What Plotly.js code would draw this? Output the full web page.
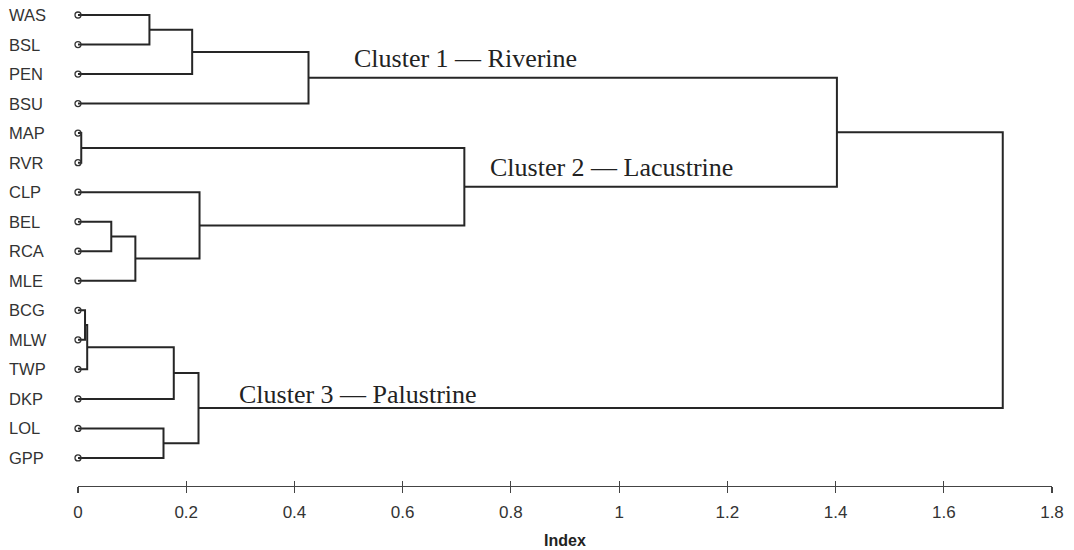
<!DOCTYPE html>
<html>
<head>
<meta charset="utf-8">
<script src="https://cdn.plot.ly/plotly-3.0.1.min.js"></script>
<style>html,body{margin:0;padding:0;background:#fff;}#chart{width:1074px;height:550px;}</style>
</head>
<body>
<div id="chart"></div>
<script>
// Leaves in plotted order (top to bottom)
var leaves = ["WAS","BSL","PEN","BSU","MAP","RVR","CLP","BEL","RCA","MLE","BCG","MLW","TWP","DKP","LOL","GPP"];
// Merge steps (hclust style): negative = leaf (1-based index into leaves), positive = earlier merge
var mergeA = [-5, -11, 2, -8, 4, -1, -15, 3, 6, 8, -7, 9, 1, 12, 14];
var mergeB = [-6, -12, -13, -9, -10, -2, -16, -14, -3, 7, 5, -4, 11, 13, 10];
var heights = [0.006, 0.013, 0.017, 0.0615, 0.106, 0.132, 0.158, 0.177, 0.211, 0.2227, 0.2246, 0.426, 0.714, 1.4025, 1.709];
var tickVals = [0, 0.2, 0.4, 0.6, 0.8, 1, 1.2, 1.4, 1.6, 1.8];
var clusterNames = ["Cluster 1 \u2014 Riverine", "Cluster 2 \u2014 Lacustrine", "Cluster 3 \u2014 Palustrine"];
var clusterNodes = [12, 13, 10];

var nodeY = [], nodeH = [];
function childPos(c){
  if (c < 0) return {y: -c - 1, h: 0};
  return {y: nodeY[c-1], h: nodeH[c-1]};
}
var lx = [], ly = [];
for (var i = 0; i < heights.length; i++){
  var a = childPos(mergeA[i]), b = childPos(mergeB[i]), h = heights[i];
  nodeY.push((a.y + b.y) / 2); nodeH.push(h);
  lx.push(a.h, h, h, b.h, null);
  ly.push(a.y, a.y, b.y, b.y, null);
}
var lineColor = "#262626";
var traces = [
  {type:"scatter", mode:"lines", x:lx, y:ly, line:{color:lineColor, width:2}, hoverinfo:"skip", showlegend:false},
  {type:"scatter", mode:"markers", x:leaves.map(function(){return 0;}), y:leaves.map(function(_,i){return i;}),
   marker:{symbol:"circle-open", size:6, color:"#333", line:{width:1.3, color:"#333"}}, cliponaxis:false, showlegend:false, hoverinfo:"skip"},
  {type:"scatter", mode:"markers", x:[0], y:[0], xaxis:"x2", marker:{opacity:0}, showlegend:false, hoverinfo:"skip"}
];
var annotations = leaves.map(function(name, i){
  return {xref:"paper", yref:"y", x:-0.0725, y:i, text:name, showarrow:false, xanchor:"left", yanchor:"middle",
          font:{family:"Liberation Sans, Arial, sans-serif", size:16.5, color:"#333"}};
});
var clusterX = [0.507, 0.757, 0.293];
var clusterShift = [3, 3, -3];
clusterNames.forEach(function(t, k){
  annotations.push({xref:"x", yref:"y", x:clusterX[k], y:nodeY[clusterNodes[k]-1], text:t, showarrow:false,
    xanchor:"left", yanchor:"bottom", yshift:clusterShift[k],
    font:{family:"Liberation Serif, 'Times New Roman', serif", size:26, color:"#222"}});
});
var axFont = {family:"Liberation Sans, Arial, sans-serif", size:17, color:"#333"};
var layout = {
  width:1074, height:550,
  margin:{l:78, r:22, t:0, b:64},
  paper_bgcolor:"#fff", plot_bgcolor:"#fff",
  xaxis:{range:[0,1.8], tickvals:tickVals, ticks:"outside", ticklen:6, tickwidth:1.2, tickcolor:"#444",
         showline:true, linecolor:"#444", linewidth:1.2, showgrid:false, zeroline:false,
         tickfont:axFont, ticklabelstandoff:4,
         title:{text:"<b>Index</b>", font:{family:"Liberation Sans, Arial, sans-serif", size:16, color:"#222"}, standoff:14}},
  xaxis2:{range:[0,1.8], overlaying:"x", side:"bottom", anchor:"y", tickvals:tickVals, ticks:"inside", ticklen:5,
          tickwidth:1.2, tickcolor:"#444", showticklabels:false, showline:false, showgrid:false, zeroline:false},
  yaxis:{range:[15.95,-0.508], visible:false, showgrid:false, zeroline:false},
  annotations:annotations,
  showlegend:false
};
Plotly.newPlot("chart", traces, layout, {staticPlot:true, displayModeBar:false});
</script>
</body>
</html>
